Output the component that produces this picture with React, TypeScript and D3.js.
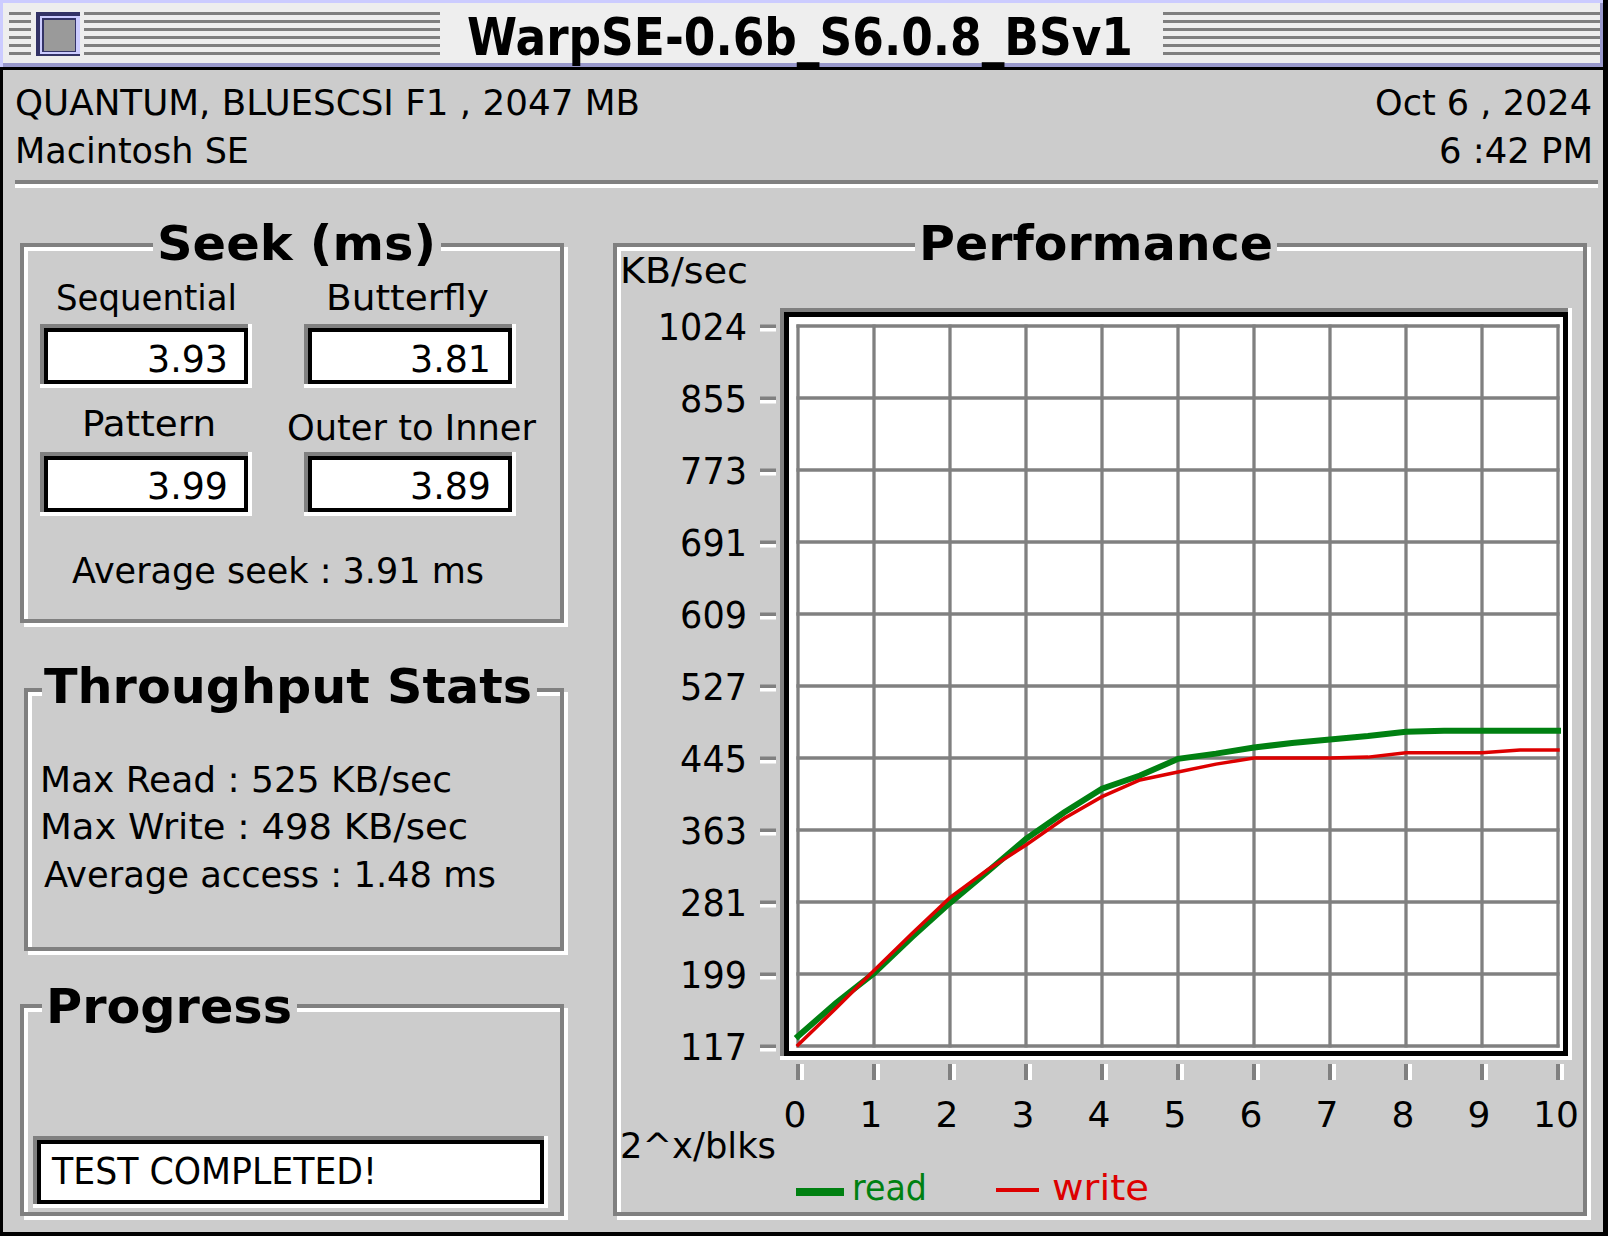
import * as d3 from 'd3'

// x = log2(transfer size in blocks), y = KB/sec
const blockExp = [0, 0.5, 1, 1.5, 2, 2.5, 3, 3.5, 4, 4.5, 5, 5.5, 6, 6.5, 7, 7.5, 8, 8.5, 9, 9.5, 10]
const readKBs = [128, 166, 200, 241, 280, 316, 353, 383, 410, 425, 444, 450, 457, 462, 466, 470, 475, 476, 476, 476, 476]
const writeKBs = [118, 160, 203, 245, 286, 318, 346, 376, 401, 420, 429, 438, 445, 445, 445, 446, 451, 451, 451, 454, 454]

const yTicks = [117, 199, 281, 363, 445, 527, 609, 691, 773, 855, 1024]
const xTicks = [0, 1, 2, 3, 4, 5, 6, 7, 8, 9, 10]

const seekLabels = ['Sequential', 'Butterfly', 'Pattern', 'Outer to Inner']
const seekValues = ['3.93', '3.81', '3.99', '3.89']
const throughputLines = ['Max Read : 525 KB/sec', 'Max Write : 498 KB/sec', 'Average access : 1.48 ms']

const GRAY = '#808080'
const BODY = '#cccccc'
const GREEN = '#008011'
const RED = '#dd0000'
const FONT = '"DejaVu Sans", Geneva, sans-serif'

function T({ x, y, len, size = 36, bold = false, anchor = 'start', fill = '#000', children }: any) {
  return (
    <text x={x} y={y} fontSize={size} fontWeight={bold ? 'bold' : 'normal'} textAnchor={anchor}
      fill={fill} fontFamily={FONT} textLength={len} lengthAdjust={len ? 'spacingAndGlyphs' : undefined}>
      {children}
    </text>
  )
}

// etched group box with a title breaking the top line
function GroupBox({ x, y, w, h, gap }: any) {
  return (
    <g>
      <rect x={x + 4} y={y + 4} width={w} height={h} fill="none" stroke="#fff" strokeWidth={4} />
      <rect x={x} y={y} width={w} height={h} fill="none" stroke={GRAY} strokeWidth={4} />
      <rect x={gap[0]} y={y - 4} width={gap[1] - gap[0]} height={12} fill={BODY} />
    </g>
  )
}

// inset field: gray top/left, black frame, white bottom/right
function Field({ x0, y0, x1, y1, b = 4 }: any) {
  return (
    <g shapeRendering="crispEdges">
      <rect x={x0} y={y0} width={x1 - x0} height={y1 - y0} fill="#fff" />
      <rect x={x0} y={y0} width={x1 - x0 - 4} height={y1 - y0 - 4} fill={GRAY} />
      <rect x={x0 + 4} y={y0 + 4} width={x1 - x0 - 8} height={y1 - y0 - 8} fill="#000" />
      <rect x={x0 + 4 + b} y={y0 + 4 + b} width={x1 - x0 - 8 - 2 * b} height={y1 - y0 - 8 - 2 * b} fill="#fff" />
    </g>
  )
}

export default function App() {
  const x = d3.scaleLinear().domain([0, 10]).range([798, 1558])
  // the y axis is piecewise: 82 KB/s per division up to 855, one wide division to 1024
  const y = d3.scaleLinear().domain([117, 855, 1024]).range([1046, 398, 326])

  const line = d3.line<number>().x((_, i) => x(blockExp[i])).y(d => y(d)).curve(d3.curveLinear)

  const stripes = d3.range(6).map(i => 12 + i * 8)

  const seekPos = [
    { lx: 56, ly: 310, llen: 181, fx: 40, fy: 324, vx: 228, vy: 372 },
    { lx: 326, ly: 310, llen: 163, fx: 304, fy: 324, vx: 491, vy: 372 },
    { lx: 82, ly: 436, llen: 134, fx: 40, fy: 452, vx: 228, vy: 499 },
    { lx: 287, ly: 440, llen: 249, fx: 304, fy: 452, vx: 491, vy: 499 },
  ]
  const thrPos = [
    { x: 40, y: 792, len: 412 },
    { x: 40, y: 839, len: 428 },
    { x: 44, y: 887, len: 452 },
  ]

  return (
    <svg width={1608} height={1236} style={{ position: 'absolute', left: 0, top: 0, display: 'block' }}>
      {/* window frame */}
      <rect x={0} y={0} width={1608} height={1236} fill="#000" />
      <rect x={3} y={70} width={1600} height={1162} fill={BODY} />
      <rect x={0} y={0} width={1603} height={67} fill="#ccccff" />
      <rect x={3} y={63} width={1600} height={4} fill="#9999cc" />
      <rect x={1600} y={3} width={3} height={64} fill="#9999cc" />
      <rect x={3} y={3} width={1597} height={60} fill="#eeeeee" />
      {stripes.map(s => (
        <g key={s} fill="#7f7f7f">
          <rect x={9} y={s} width={22} height={3} />
          <rect x={84} y={s} width={356} height={3} />
          <rect x={1163} y={s} width={437} height={3} />
        </g>
      ))}
      {/* close box */}
      <rect x={36} y={12} width={44} height={44} fill="#333366" />
      <rect x={40} y={16} width={40} height={38} fill="#ccccff" />
      <rect x={42} y={18} width={34} height={34} fill="#333366" />
      <rect x={44} y={20} width={31} height={31} fill="#9a9a9a" />
      <T x={467} y={55} len={666} size={52} bold>WarpSE-0.6b_S6.0.8_BSv1</T>

      {/* header */}
      <T x={15} y={115} len={625} size={35}>QUANTUM, BLUESCSI F1 , 2047 MB</T>
      <T x={15} y={163} len={234} size={35}>Macintosh SE</T>
      <T x={1592} y={115} len={217} size={35} anchor="end">Oct 6 , 2024</T>
      <T x={1593} y={163} len={154} size={35} anchor="end">6 :42 PM</T>
      <rect x={15} y={180} width={1583} height={4} fill={GRAY} />
      <rect x={15} y={184} width={1583} height={4} fill="#fff" />

      {/* Seek panel */}
      <GroupBox x={22} y={245} w={540} h={376} gap={[153, 441]} />
      <T x={157} y={260} len={279} size={48} bold>Seek (ms)</T>
      {seekLabels.map((lab, i) => {
        const p = seekPos[i]
        return (
          <g key={lab}>
            <T x={p.lx} y={p.ly} len={p.llen} size={35}>{lab}</T>
            <Field x0={p.fx} y0={p.fy} x1={p.fx + 212} y1={p.fy + 64} />
            <T x={p.vx} y={p.vy} len={81} size={38} anchor="end">{seekValues[i]}</T>
          </g>
        )
      })}
      <T x={72} y={583} len={412} size={35}>Average seek : 3.91 ms</T>

      {/* Throughput panel */}
      <GroupBox x={26} y={690} w={536} h={259} gap={[42, 537]} />
      <T x={44} y={703} len={488} size={48} bold>Throughput Stats</T>
      {throughputLines.map((s, i) => (
        <T key={s} x={thrPos[i].x} y={thrPos[i].y} len={thrPos[i].len} size={35}>{s}</T>
      ))}

      {/* Progress panel */}
      <GroupBox x={22} y={1006} w={540} h={208} gap={[42, 297]} />
      <T x={46} y={1023} len={246} size={48} bold>Progress</T>
      <Field x0={33} y0={1136} x1={548} y1={1208} />
      <T x={52} y={1184} len={325} size={38}>TEST COMPLETED!</T>

      {/* Performance panel */}
      <GroupBox x={615} y={245} w={970} h={969} gap={[915, 1277]} />
      <T x={919} y={260} len={354} size={48} bold>Performance</T>
      <T x={620} y={283} len={128} size={36}>KB/sec</T>
      <Field x0={780} y0={308} x1={1572} y1={1060} b={5} />

      {/* grid */}
      <g stroke={GRAY} strokeWidth={3.3}>
        {xTicks.map(t => (
          <line key={'gx' + t} x1={x(t)} x2={x(t)} y1={y(1024) - 1.6} y2={y(117) + 1.6} />
        ))}
        {yTicks.map(t => (
          <line key={'gy' + t} x1={x(0) - 1.6} x2={x(10) + 1.6} y1={y(t)} y2={y(t)} />
        ))}
      </g>

      {/* y axis */}
      {yTicks.map(t => (
        <g key={'yt' + t}>
          <rect x={760} y={y(t) - 1.5} width={16} height={3.5} fill={GRAY} />
          <rect x={760} y={y(t) + 2} width={16} height={3.5} fill="#fff" />
          <T x={747} y={y(t) + 13.5} len={String(t).length * 22.3} size={37} anchor="end">{t}</T>
        </g>
      ))}

      {/* x axis */}
      {xTicks.map(t => (
        <g key={'xt' + t}>
          <rect x={x(t) - 2} y={1064} width={4} height={16} fill={GRAY} />
          <rect x={x(t) + 2} y={1064} width={4} height={16} fill="#fff" />
          <T x={x(t) - (t === 10 ? 2 : 3)} y={1127} size={36} anchor="middle">{t}</T>
        </g>
      ))}
      <T x={620} y={1158} len={156} size={36}>2^x/blks</T>

      {/* series */}
      <path d={line(readKBs) || ''} fill="none" stroke={GREEN} strokeWidth={6} strokeLinejoin="miter" strokeLinecap="square" />
      <path d={line(writeKBs) || ''} fill="none" stroke={RED} strokeWidth={3.5} strokeLinejoin="miter" strokeLinecap="square" />

      {/* legend */}
      <rect x={796} y={1188} width={48} height={8} fill={GREEN} />
      <T x={852} y={1200} len={75} size={36} fill={GREEN}>read</T>
      <rect x={996} y={1188} width={43} height={4} fill={RED} />
      <T x={1052} y={1200} len={97} size={36} fill={RED}>write</T>
    </svg>
  )
}
